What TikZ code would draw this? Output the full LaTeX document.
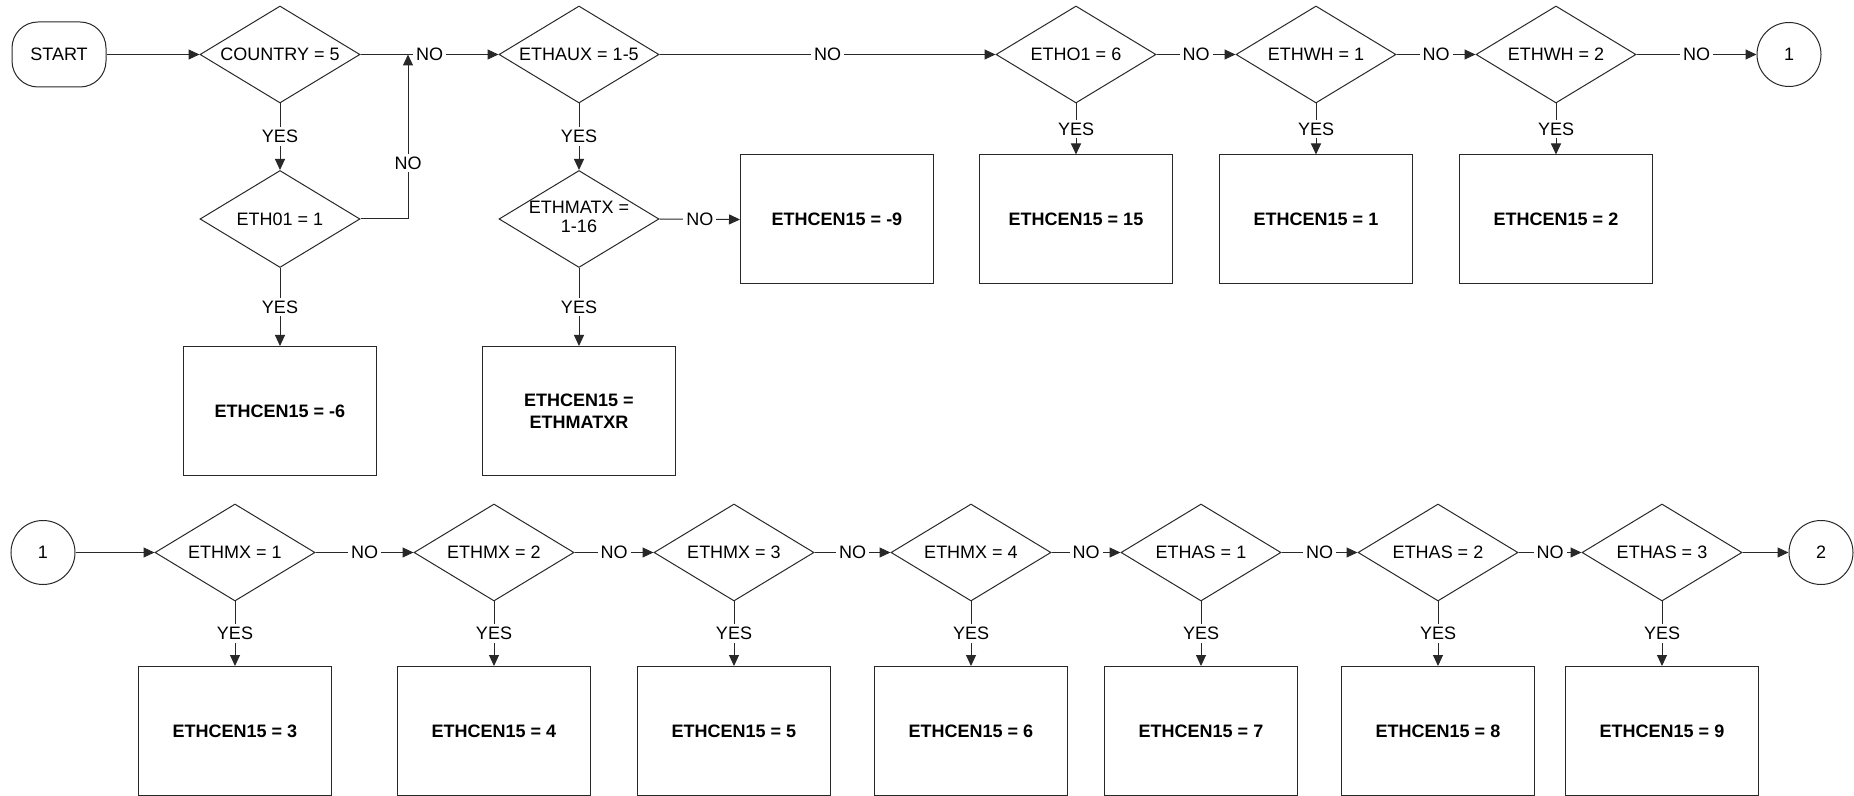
\documentclass[tikz,border=0pt]{standalone}
\usepackage{fontspec}
\setmainfont{Liberation Sans}
\usetikzlibrary{shapes.geometric,arrows.meta}
\definecolor{lc}{RGB}{40,40,40}
\begin{document}
\begin{tikzpicture}[x=0.5pt,y=-0.5pt,
  every node/.style={font=\fontsize{9pt}{10.5pt}\selectfont},
  dia/.style={draw=lc, line width=0.5pt, shape=diamond, aspect=1.65, minimum width=80pt, minimum height=48.5pt, inner sep=0pt},
  resbox/.style={draw=lc, line width=0.5pt, minimum width=96.5pt, minimum height=64.5pt, inner sep=2pt, align=center, font=\fontsize{9pt}{11pt}\selectfont\bfseries},
  conn/.style={draw=lc, line width=0.5pt, circle, minimum size=32pt, inner sep=0pt},
  term/.style={draw=lc, line width=0.5pt, rounded corners=13pt, minimum width=47pt, minimum height=32.5pt},
  arr/.style={draw=lc, line width=0.5pt, -{Triangle[length=5.5pt,width=5pt]}},
  lbl/.style={fill=white, inner sep=1.5pt}]
\useasboundingbox (0,0) rectangle (1854,796);

% top row
\node[term] (start) at (59,54.5) {START};
\node[dia] (country) at (280,54.5) {COUNTRY = 5};
\node[dia] (ethaux) at (579,54.5) {ETHAUX = 1-5};
\node[dia] (etho1) at (1076,54.5) {ETHO1 = 6};
\node[dia] (ethwh1) at (1316,54.5) {ETHWH = 1};
\node[dia] (ethwh2) at (1556,54.5) {ETHWH = 2};
\node[conn] (c1a) at (1789,54.5) {1};
\coordinate (j) at (408,54.5);

\node[dia] (eth01) at (280,219) {ETH01 = 1};
\node[dia] (ethmatx) at (579,219) {\raisebox{-2.3pt}[0pt][0pt]{\makebox[0pt]{\begin{tabular}{@{}c@{}}ETHMATX =\\[-1pt]1-16\end{tabular}}}};
\node[resbox] (b9) at (837,219.5) {ETHCEN15 = -9};
\node[resbox] (b15) at (1076,219.5) {ETHCEN15 = 15};
\node[resbox] (b1) at (1316,219.5) {ETHCEN15 = 1};
\node[resbox] (b2) at (1556,219.5) {ETHCEN15 = 2};
\node[resbox] (b6) at (280,411) {ETHCEN15 = -6};
\node[resbox] (bmatxr) at (579,411) {ETHCEN15 =\\ETHMATXR};

% bottom row
\node[conn] (c1b) at (43,552.5) {1};
\node[dia] (ethmx1) at (235,552.5) {ETHMX = 1};
\node[dia] (ethmx2) at (494,552.5) {ETHMX = 2};
\node[dia] (ethmx3) at (734,552.5) {ETHMX = 3};
\node[dia] (ethmx4) at (971,552.5) {ETHMX = 4};
\node[dia] (ethas1) at (1201,552.5) {ETHAS = 1};
\node[dia] (ethas2) at (1438,552.5) {ETHAS = 2};
\node[dia] (ethas3) at (1662,552.5) {ETHAS = 3};
\node[conn] (c2) at (1821,552.5) {2};

\node[resbox] (b3) at (235,731) {ETHCEN15 = 3};
\node[resbox] (b4) at (494,731) {ETHCEN15 = 4};
\node[resbox] (b5) at (734,731) {ETHCEN15 = 5};
\node[resbox] (bb6) at (971,731) {ETHCEN15 = 6};
\node[resbox] (b7) at (1201,731) {ETHCEN15 = 7};
\node[resbox] (b8) at (1438,731) {ETHCEN15 = 8};
\node[resbox] (bb9) at (1662,731) {ETHCEN15 = 9};

% connectors top
\draw[arr] (start.east) -- (country.west);
\draw[arr] (country.east) -- node[lbl]{NO} (ethaux.west);
\draw[arr] (eth01.east) -| node[lbl,pos=0.67]{NO} (j);
\draw[arr] (country.south) -- node[lbl]{YES} (eth01.north);
\draw[arr] (eth01.south) -- node[lbl]{YES} (b6.north);
\draw[arr] (ethaux.east) -- node[lbl]{NO} (etho1.west);
\draw[arr] (ethaux.south) -- node[lbl]{YES} (ethmatx.north);
\draw[arr] (ethmatx.east) -- node[lbl]{NO} (b9.west);
\draw[arr] (ethmatx.south) -- node[lbl]{YES} (bmatxr.north);
\draw[arr] (etho1.east) -- node[lbl]{NO} (ethwh1.west);
\draw[arr] (ethwh1.east) -- node[lbl]{NO} (ethwh2.west);
\draw[arr] (ethwh2.east) -- node[lbl]{NO} (c1a.west);
\draw[arr] (etho1.south) -- node[lbl]{YES} (b15.north);
\draw[arr] (ethwh1.south) -- node[lbl]{YES} (b1.north);
\draw[arr] (ethwh2.south) -- node[lbl]{YES} (b2.north);

% connectors bottom
\draw[arr] (c1b.east) -- (ethmx1.west);
\draw[arr] (ethmx1.east) -- node[lbl]{NO} (ethmx2.west);
\draw[arr] (ethmx2.east) -- node[lbl]{NO} (ethmx3.west);
\draw[arr] (ethmx3.east) -- node[lbl]{NO} (ethmx4.west);
\draw[arr] (ethmx4.east) -- node[lbl]{NO} (ethas1.west);
\draw[arr] (ethas1.east) -- node[lbl]{NO} (ethas2.west);
\draw[arr] (ethas2.east) -- node[lbl]{NO} (ethas3.west);
\draw[arr] (ethas3.east) -- (c2.west);
\draw[arr] (ethmx1.south) -- node[lbl]{YES} (b3.north);
\draw[arr] (ethmx2.south) -- node[lbl]{YES} (b4.north);
\draw[arr] (ethmx3.south) -- node[lbl]{YES} (b5.north);
\draw[arr] (ethmx4.south) -- node[lbl]{YES} (bb6.north);
\draw[arr] (ethas1.south) -- node[lbl]{YES} (b7.north);
\draw[arr] (ethas2.south) -- node[lbl]{YES} (b8.north);
\draw[arr] (ethas3.south) -- node[lbl]{YES} (bb9.north);
\end{tikzpicture}
\end{document}
